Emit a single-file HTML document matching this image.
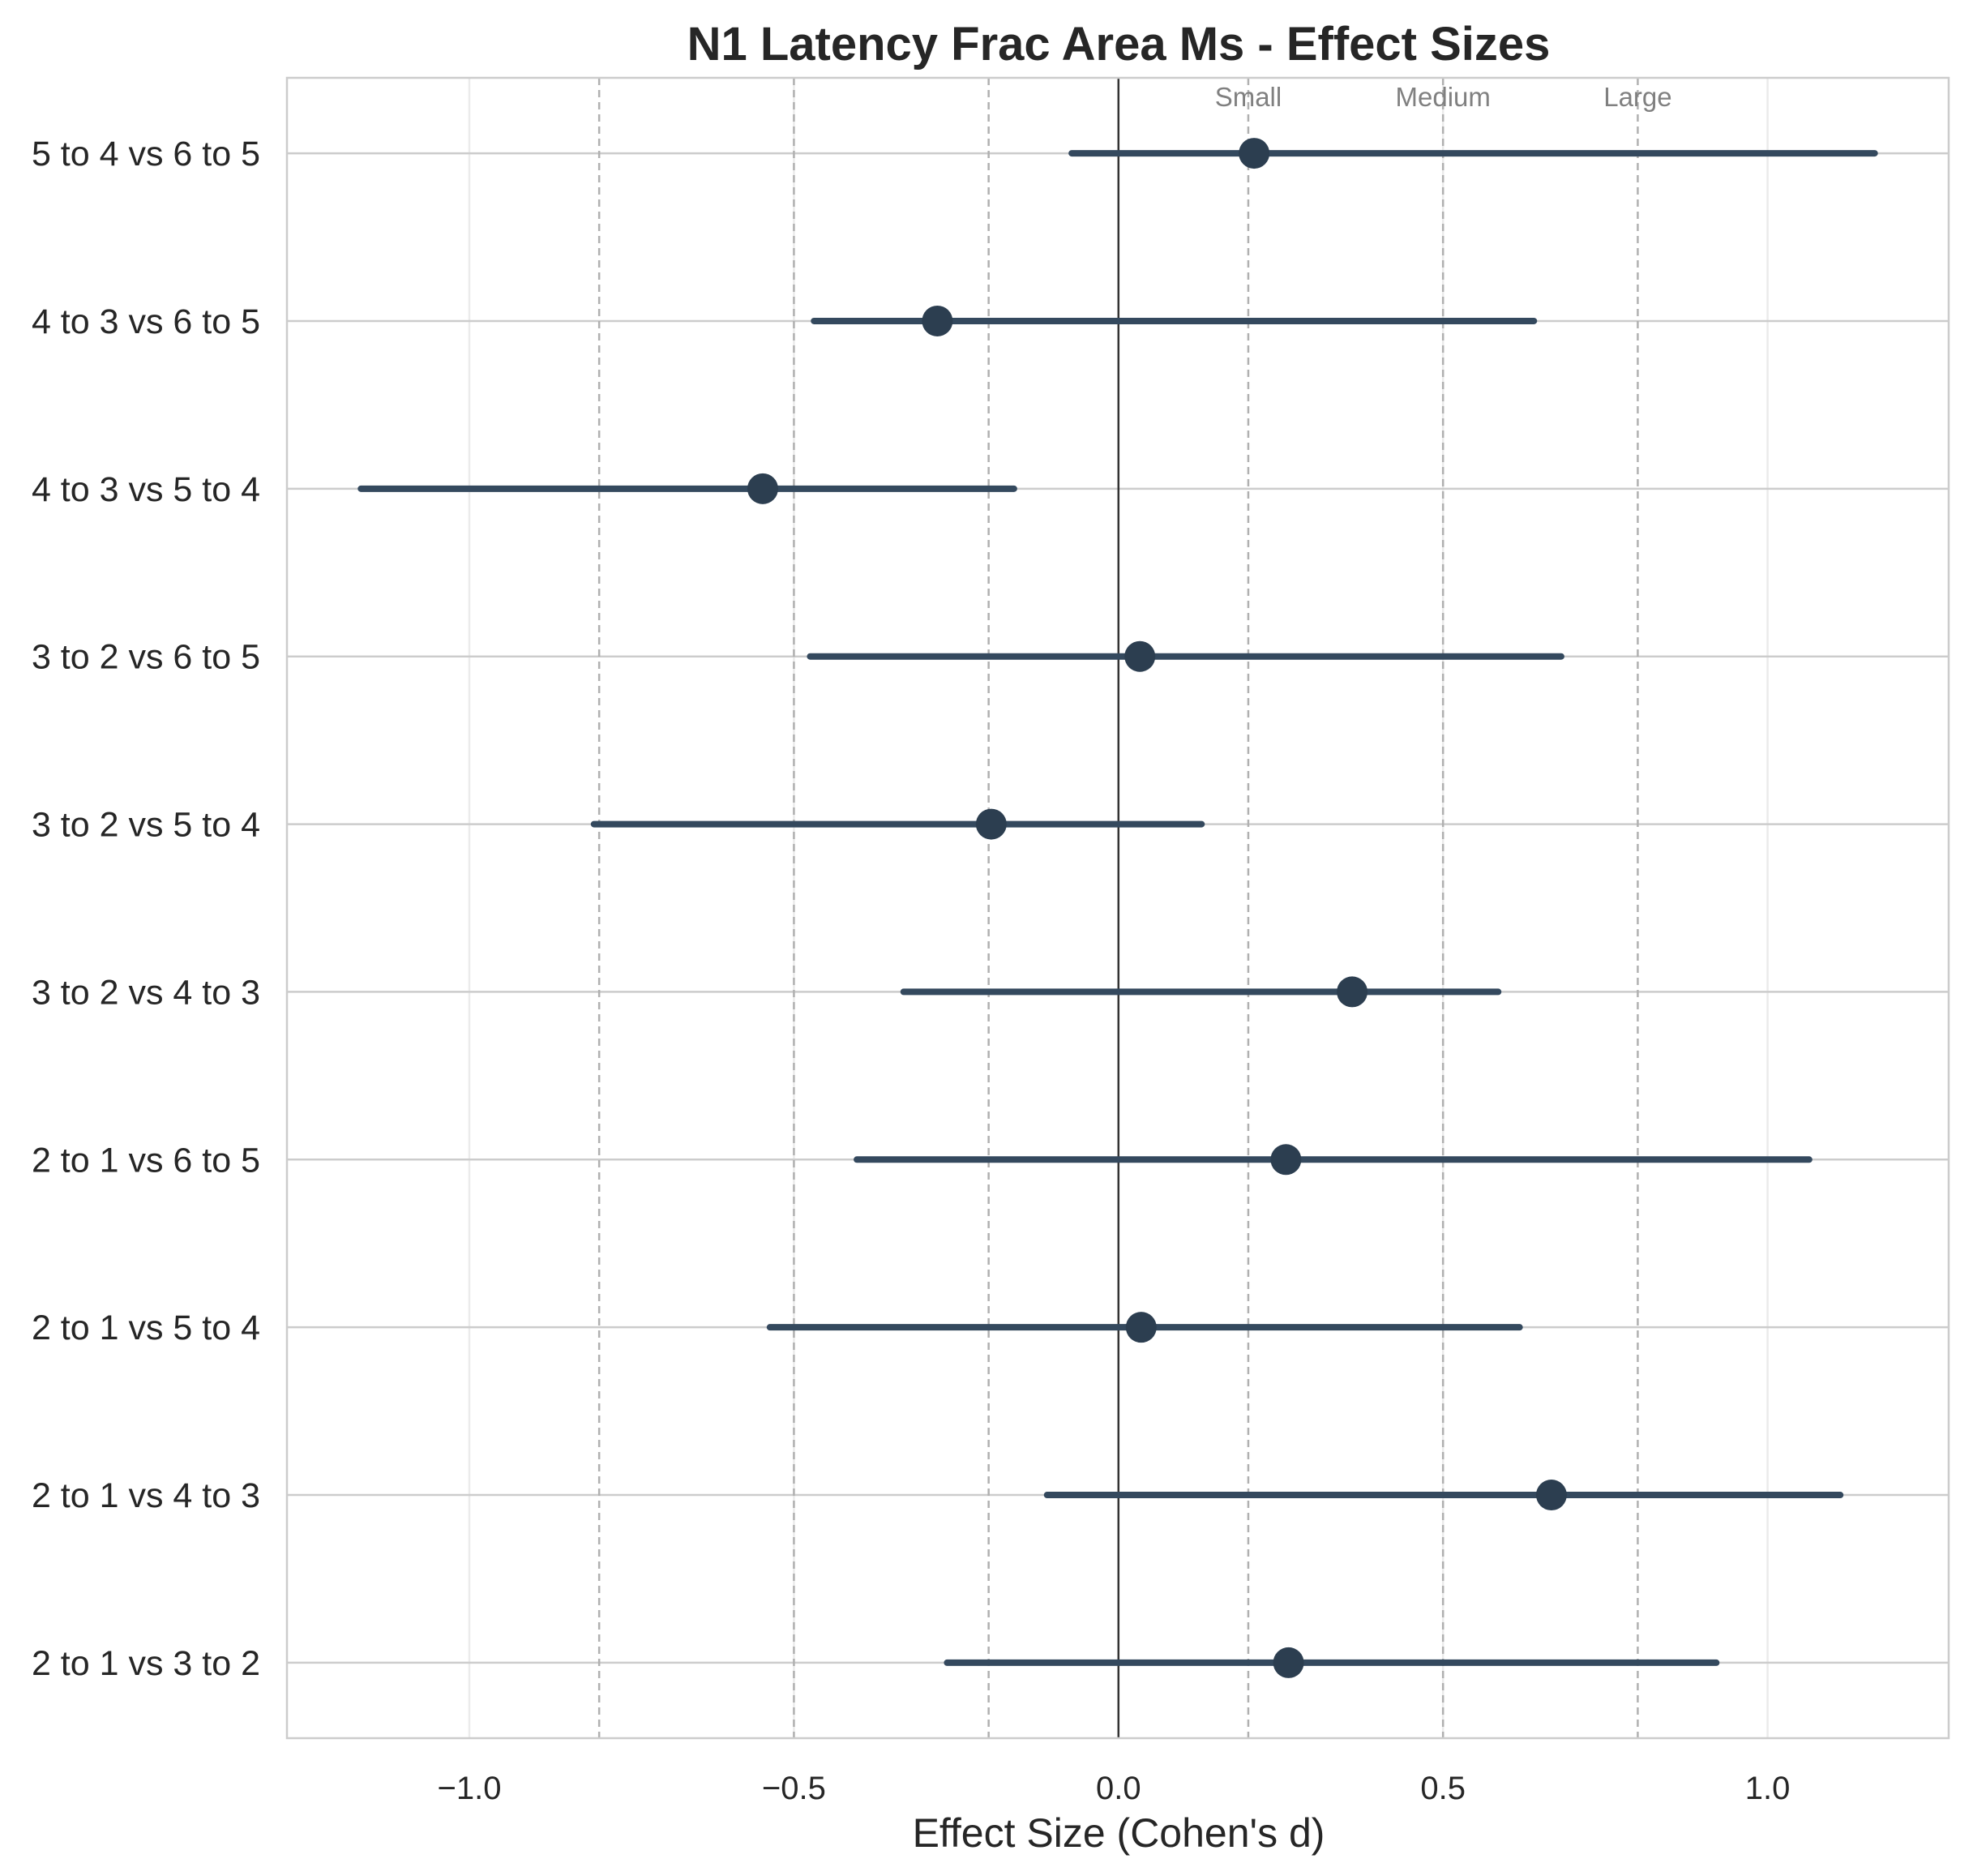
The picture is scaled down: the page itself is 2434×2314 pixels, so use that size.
<!DOCTYPE html>
<html><head><meta charset="utf-8"><style>
html,body{margin:0;padding:0;background:#fff;}
svg{display:block;font-family:"Liberation Sans","DejaVu Sans",sans-serif;}
</style></head><body>
<svg id="chart" width="2434" height="2314" viewBox="0 0 2434 2314" xmlns="http://www.w3.org/2000/svg">
<rect width="2434" height="2314" fill="#fff"/>
<text x="1380" y="74" text-anchor="middle" font-size="58" font-weight="bold" fill="#262626">N1 Latency Frac Area Ms - Effect Sizes</text>
<g id="grid"></g><g id="marks"></g><g id="labels"></g>
<rect x="354" y="96" width="2050" height="2048" fill="none" stroke="#cccccc" stroke-width="2.5"/>
<text x="1380" y="2278" text-anchor="middle" font-size="50" fill="#262626">Effect Size (Cohen's d)</text>
</svg>
<script>
const categories=["5 to 4 vs 6 to 5","4 to 3 vs 6 to 5","4 to 3 vs 5 to 4","3 to 2 vs 6 to 5","3 to 2 vs 5 to 4","3 to 2 vs 4 to 3","2 to 1 vs 6 to 5","2 to 1 vs 5 to 4","2 to 1 vs 4 to 3","2 to 1 vs 3 to 2"];
const effects=[0.209,-0.279,-0.548,0.033,-0.196,0.360,0.258,0.035,0.667,0.262];
const ciLow=[-0.072,-0.469,-1.167,-0.475,-0.808,-0.331,-0.403,-0.537,-0.110,-0.264];
const ciHigh=[1.165,0.640,-0.161,0.682,0.128,0.585,1.064,0.618,1.112,0.921];
const xTicks=[-1.0,-0.5,0.0,0.5,1.0];
const xTickLabels=["\u22121.0","\u22120.5","0.0","0.5","1.0"];
const thresholds=[-0.8,-0.5,-0.2,0.2,0.5,0.8];
const thresholdNames=["Small","Medium","Large"];
const thresholdPos=[0.2,0.5,0.8];

const L=354,R=2404,T=96,B=2144,XMIN=-1.281,XMAX=1.279,YMIN=-0.45,YMAX=9.45;
const NS="http://www.w3.org/2000/svg";
function X(v){return L+(v-XMIN)/(XMAX-XMIN)*(R-L);}
function Y(i){return T+(i-YMIN)/(YMAX-YMIN)*(B-T);}
function mk(p,tag,a){const e=document.createElementNS(NS,tag);for(const k in a)e.setAttribute(k,a[k]);p.appendChild(e);return e;}
const grid=document.getElementById('grid'),marks=document.getElementById('marks'),labels=document.getElementById('labels');
xTicks.forEach((t,i)=>{
  const g=mk(grid,'line',{x1:X(t),x2:X(t),y1:T,y2:B,stroke:'#ebebeb','stroke-width':2.5});
  
  
  const tx=mk(labels,'text',{x:X(t),y:2219,'text-anchor':'middle','font-size':40,fill:'#262626'});
  tx.textContent=xTickLabels[i];
  
  
});
categories.forEach((c,i)=>{
  const g=mk(grid,'line',{x1:L,x2:R,y1:Y(i),y2:Y(i),stroke:'#cccccc','stroke-width':2.5});
  
  
  const tx=mk(labels,'text',{x:321,y:Y(i)+15,'text-anchor':'end','font-size':43,fill:'#262626'});
  tx.textContent=c;
  
  
});
thresholds.forEach(t=>{
  const l=mk(grid,'line',{x1:X(t),x2:X(t),y1:T,y2:B,stroke:'#b0b0b0','stroke-width':2.5,'stroke-dasharray':'9,6'});
  
  
});
thresholdNames.forEach((n,i)=>{
  const tx=mk(labels,'text',{x:X(thresholdPos[i]),y:131,'text-anchor':'middle','font-size':33,fill:'#808080'});
  tx.textContent=n;
  
  
});
const z=mk(grid,'line',{x1:X(0),x2:X(0),y1:T,y2:B,stroke:'#333','stroke-width':2.5});


categories.forEach((c,i)=>{
  const l=mk(marks,'line',{x1:X(ciLow[i]),x2:X(ciHigh[i]),y1:Y(i),y2:Y(i),stroke:'#34495e','stroke-width':8,'stroke-linecap':'round'});
  
  
  const p=mk(marks,'circle',{cx:X(effects[i]),cy:Y(i),r:19,fill:'#2c3e50'});
  
  
});
</script>
</body></html>
